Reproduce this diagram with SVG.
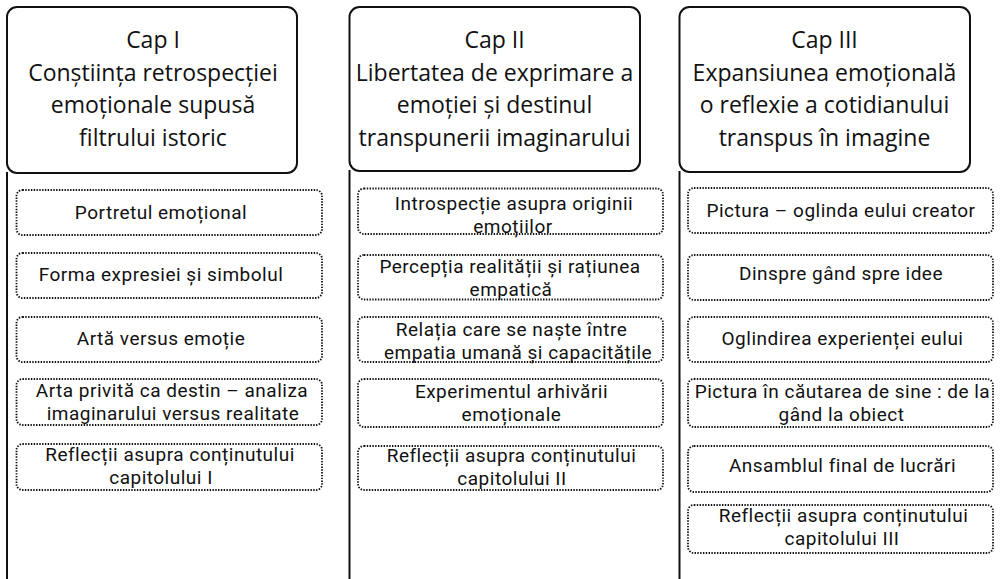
<svg xmlns="http://www.w3.org/2000/svg" width="1001" height="579" viewBox="0 0 1001 579">
<style>
.hdr{fill:#fff;stroke:#111;stroke-width:2}
.sub{fill:#fff;stroke:#111;stroke-width:1.8;stroke-dasharray:1.4 1.4}
.ht{font-family:"Open Sans","Liberation Sans",sans-serif;font-size:23px;fill:#111;text-anchor:middle}
.st{font-family:Roboto,"Open Sans",sans-serif;font-size:19px;letter-spacing:0.5px;fill:#111;text-anchor:middle}
.ln{stroke:#111;stroke-width:2;fill:none}
</style>
<rect width="1001" height="579" fill="#fff"/>
<g id="connectors">
<line class="ln" x1="7" y1="172" x2="7" y2="579"/>
<line class="ln" x1="349.5" y1="170" x2="349.5" y2="579"/>
<line class="ln" x1="679.5" y1="171" x2="679.5" y2="579"/>
</g>
<g id="cap1">
<rect class="hdr" x="7" y="7" width="290" height="166" rx="10"/>
<text class="ht"><tspan x="153" y="48">Cap I</tspan><tspan x="153" y="80.5">Conștiința retrospecției</tspan><tspan x="153" y="113">emoționale supusă</tspan><tspan x="153" y="145.5">filtrului istoric</tspan></text>
</g>
<g id="cap2">
<rect class="hdr" x="349.5" y="7" width="290.5" height="164" rx="10"/>
<text class="ht"><tspan x="494.5" y="48">Cap II</tspan><tspan x="494.5" y="80.5">Libertatea de exprimare a</tspan><tspan x="494.5" y="113">emoției și destinul</tspan><tspan x="494.5" y="145.5">transpunerii imaginarului</tspan></text>
</g>
<g id="cap3">
<rect class="hdr" x="679.5" y="7" width="290.5" height="165" rx="10"/>
<text class="ht"><tspan x="824.5" y="48">Cap III</tspan><tspan x="824.5" y="80.5">Expansiunea emoțională</tspan><tspan x="824.5" y="113">o reflexie a cotidianului</tspan><tspan x="824.5" y="145.5">transpus în imagine</tspan></text>
</g>
<g id="c1s1"><rect class="sub" x="16.5" y="190" width="305.5" height="45" rx="6"/><text class="st" x="161" y="219">Portretul emoțional</text></g>
<g id="c1s2"><rect class="sub" x="16.5" y="253" width="305.5" height="45" rx="6"/><text class="st" x="161" y="281">Forma expresiei și simbolul</text></g>
<g id="c1s3"><rect class="sub" x="16.5" y="317" width="305.5" height="45" rx="6"/><text class="st" x="161" y="345">Artă versus emoție</text></g>
<g id="c1s4"><rect class="sub" x="16.5" y="379" width="305.5" height="46" rx="6"/><text class="st"><tspan x="172" y="397">Arta privită ca destin – analiza</tspan><tspan x="173" y="420">imaginarului versus realitate</tspan></text></g>
<g id="c1s5"><rect class="sub" x="16.5" y="444" width="305.5" height="46" rx="6"/><text class="st"><tspan x="170" y="461">Reflecții asupra conținutului</tspan><tspan x="161" y="484">capitolului I</tspan></text></g>
<g id="c2s1"><rect class="sub" x="358" y="188.5" width="305" height="45.5" rx="6"/><text class="st"><tspan x="514" y="209.5">Introspecție asupra originii</tspan><tspan x="513" y="232.5">emoțiilor</tspan></text></g>
<g id="c2s2"><rect class="sub" x="358" y="255" width="305" height="44.5" rx="6"/><text class="st"><tspan x="510" y="273">Percepția realității și rațiunea</tspan><tspan x="511" y="296">empatică</tspan></text></g>
<g id="c2s3"><rect class="sub" x="358" y="317" width="305" height="45" rx="6"/><text class="st"><tspan x="511.5" y="336">Relația care se naște între</tspan><tspan x="518" y="359">empatia umană și capacitățile</tspan></text></g>
<g id="c2s4"><rect class="sub" x="358" y="379" width="305" height="48" rx="6"/><text class="st"><tspan x="511.5" y="398">Experimentul arhivării</tspan><tspan x="511.5" y="421">emoționale</tspan></text></g>
<g id="c2s5"><rect class="sub" x="358" y="446" width="305" height="44" rx="6"/><text class="st"><tspan x="511.5" y="462">Reflecții asupra conținutului</tspan><tspan x="512" y="485">capitolului II</tspan></text></g>
<g id="c3s1"><rect class="sub" x="688" y="188" width="305" height="45" rx="6"/><text class="st" x="841" y="217">Pictura – oglinda eului creator</text></g>
<g id="c3s2"><rect class="sub" x="688" y="255" width="305" height="45" rx="6"/><text class="st" x="841" y="280">Dinspre gând spre idee</text></g>
<g id="c3s3"><rect class="sub" x="688" y="317" width="305" height="45" rx="6"/><text class="st" x="842.5" y="345">Oglindirea experienței eului</text></g>
<g id="c3s4"><rect class="sub" x="688" y="379" width="305" height="48" rx="6"/><text class="st"><tspan x="842.5" y="398">Pictura în căutarea de sine : de la</tspan><tspan x="841.5" y="421">gând la obiect</tspan></text></g>
<g id="c3s5"><rect class="sub" x="688" y="446" width="305" height="46" rx="6"/><text class="st" x="842.5" y="472">Ansamblul final de lucrări</text></g>
<g id="c3s6"><rect class="sub" x="688" y="505" width="305" height="48" rx="6"/><text class="st"><tspan x="843.5" y="522">Reflecții asupra conținutului</tspan><tspan x="842" y="545">capitolului III</tspan></text></g>
</svg>
